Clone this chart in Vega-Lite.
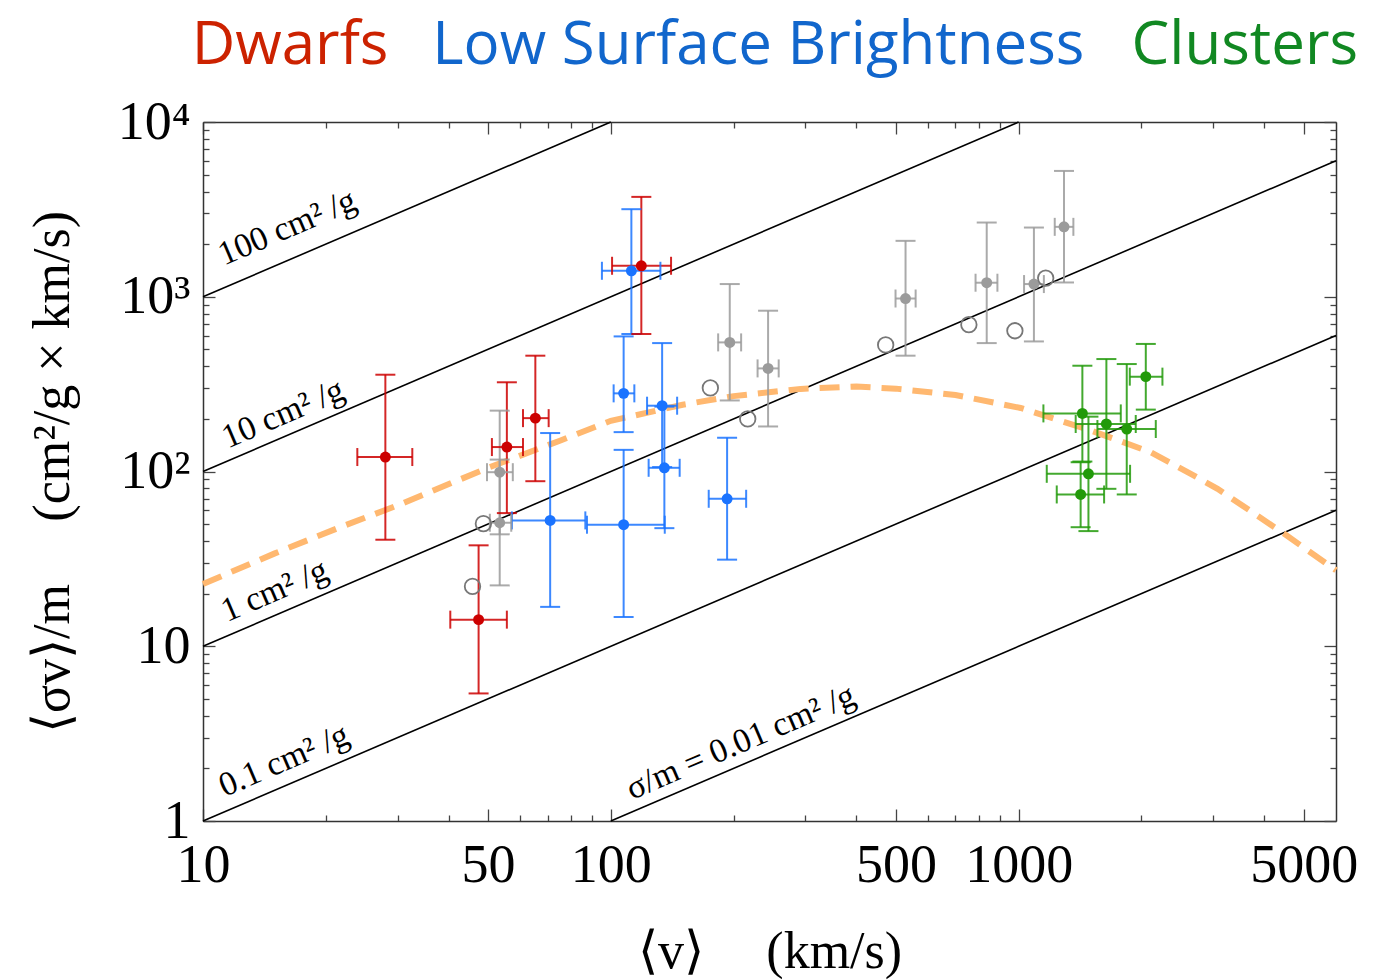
{
  "$schema": "https://vega.github.io/schema/vega-lite/v6.json",
  "width": 1133,
  "height": 699,
  "autosize": {"type": "none"},
  "padding": {"left": 203, "top": 122, "right": 47, "bottom": 159},
  "background": "white",
  "config": {"view": {"stroke": null}},
  "datasets": {
    "lines": [
      {"s": "100", "v": 10, "y": 1000}, {"s": "100", "v": 100, "y": 10000},
      {"s": "10", "v": 10, "y": 100}, {"s": "10", "v": 1000, "y": 10000},
      {"s": "1", "v": 10, "y": 10}, {"s": "1", "v": 6000, "y": 6000},
      {"s": "0.1", "v": 10, "y": 1}, {"s": "0.1", "v": 6000, "y": 600},
      {"s": "0.01", "v": 100, "y": 1}, {"s": "0.01", "v": 6000, "y": 60}
    ],
    "curve": [
      {"v": 10, "y": 22.7}, {"v": 15, "y": 34}, {"v": 21.7, "y": 48}, {"v": 30, "y": 64},
      {"v": 50, "y": 105}, {"v": 75, "y": 150}, {"v": 100, "y": 195}, {"v": 150, "y": 241},
      {"v": 200, "y": 270}, {"v": 292, "y": 297}, {"v": 400, "y": 306}, {"v": 500, "y": 298},
      {"v": 700, "y": 274}, {"v": 1011, "y": 231}, {"v": 1500, "y": 172}, {"v": 2108, "y": 129},
      {"v": 2643, "y": 97}, {"v": 3074, "y": 79.6}, {"v": 4480, "y": 44}, {"v": 6000, "y": 27.2}
    ],
    "points": [
      {"set": "Gray", "v": 53.4, "y": 99.1, "vlo": 49.7, "vhi": 57.5, "ylo": 43.7, "yhi": 223},
      {"set": "Gray", "v": 53.4, "y": 50.9, "vlo": 50.5, "vhi": 57, "ylo": 22.3, "yhi": 117},
      {"set": "Gray", "v": 195.7, "y": 548, "vlo": 183.3, "vhi": 208.7, "ylo": 255, "yhi": 1182},
      {"set": "Gray", "v": 243, "y": 389, "vlo": 229, "vhi": 258, "ylo": 181, "yhi": 832},
      {"set": "Gray", "v": 528, "y": 977, "vlo": 499, "vhi": 559, "ylo": 460, "yhi": 2089},
      {"set": "Gray", "v": 835, "y": 1203, "vlo": 784, "vhi": 887, "ylo": 543, "yhi": 2659},
      {"set": "Gray", "v": 1090, "y": 1182, "vlo": 1031, "vhi": 1153, "ylo": 555, "yhi": 2489},
      {"set": "Gray", "v": 1292, "y": 2512, "vlo": 1226, "vhi": 1362, "ylo": 1207, "yhi": 5248},
      {"set": "LSB", "v": 112.3, "y": 1408, "vlo": 95.1, "vhi": 132.3, "ylo": 612, "yhi": 3170},
      {"set": "LSB", "v": 107.5, "y": 280, "vlo": 101.6, "vhi": 114.2, "ylo": 168, "yhi": 593},
      {"set": "LSB", "v": 133.6, "y": 238, "vlo": 122.7, "vhi": 145.4, "ylo": 106, "yhi": 543},
      {"set": "LSB", "v": 135.3, "y": 105, "vlo": 123.8, "vhi": 147.5, "ylo": 47.4, "yhi": 235},
      {"set": "LSB", "v": 71.0, "y": 52.5, "vlo": 57.2, "vhi": 86.6, "ylo": 16.8, "yhi": 166},
      {"set": "LSB", "v": 107.5, "y": 49.6, "vlo": 87.4, "vhi": 135.6, "ylo": 14.7, "yhi": 133},
      {"set": "LSB", "v": 192.8, "y": 69.8, "vlo": 173.8, "vhi": 214.7, "ylo": 31.3, "yhi": 156},
      {"set": "Dwarfs", "v": 28.0, "y": 121, "vlo": 23.9, "vhi": 32.6, "ylo": 40.7, "yhi": 358},
      {"set": "Dwarfs", "v": 47.4, "y": 14.2, "vlo": 40.4, "vhi": 55.6, "ylo": 5.37, "yhi": 37.8},
      {"set": "Dwarfs", "v": 55.6, "y": 138, "vlo": 51.1, "vhi": 60.9, "ylo": 57.8, "yhi": 324},
      {"set": "Dwarfs", "v": 65.3, "y": 202, "vlo": 60.9, "vhi": 70.4, "ylo": 88.0, "yhi": 460},
      {"set": "Dwarfs", "v": 118.8, "y": 1504, "vlo": 100.7, "vhi": 140.5, "ylo": 612, "yhi": 3728},
      {"set": "Clusters", "v": 1433, "y": 215, "vlo": 1150, "vhi": 1780, "ylo": 114, "yhi": 403},
      {"set": "Clusters", "v": 1641, "y": 187, "vlo": 1380, "vhi": 1937, "ylo": 79.6, "yhi": 440},
      {"set": "Clusters", "v": 1841, "y": 175, "vlo": 1560, "vhi": 2169, "ylo": 73.9, "yhi": 412},
      {"set": "Clusters", "v": 2050, "y": 349, "vlo": 1873, "vhi": 2252, "ylo": 226, "yhi": 537},
      {"set": "Clusters", "v": 1483, "y": 97, "vlo": 1172, "vhi": 1876, "ylo": 45.6, "yhi": 206},
      {"set": "Clusters", "v": 1419, "y": 73.9, "vlo": 1240, "vhi": 1620, "ylo": 48, "yhi": 113}
    ],
    "open": [
      {"v": 45.8, "y": 22.0}, {"v": 48.7, "y": 50.3}, {"v": 175.4, "y": 300.8}, {"v": 216.6, "y": 200},
      {"v": 472, "y": 530}, {"v": 755, "y": 692}, {"v": 979, "y": 639}, {"v": 1165, "y": 1279}
    ],
    "labels": [
      {"text": "100 cm² /g", "v": 11.26, "y": 1504},
      {"text": "10 cm² /g", "v": 11.5, "y": 135},
      {"text": "1 cm² /g", "v": 11.45, "y": 13.7},
      {"text": "0.1 cm² /g", "v": 11.3, "y": 1.37},
      {"text": "σ/m = 0.01 cm² /g", "v": 112.7, "y": 1.32}
    ],
    "title": [
      {"text": "Dwarfs", "group": "tDwarfs", "v": 16.35, "y": 21450},
      {"text": "Low Surface Brightness", "group": "tLSB", "v": 230, "y": 21450},
      {"text": "Clusters", "group": "tClusters", "v": 3585, "y": 21450}
    ]
  },
  "resolve": {"axis": {"x": "independent", "y": "independent"}},
  "layer": [
    {
      "data": {"name": "lines"},
      "mark": {"type": "line", "color": "black", "strokeWidth": 1.6},
      "encoding": {
        "x": {"field": "v", "type": "quantitative",
          "scale": {"type": "log", "domain": [10, 6000], "nice": false},
          "axis": {"orient": "bottom",
            "values": [10,20,30,40,50,60,70,80,90,100,200,300,400,500,600,700,800,900,1000,2000,3000,4000,5000],
            "labelExpr": "indexof([10,50,100,500,1000,5000], datum.value) >= 0 ? format(datum.value, 'd') : ''",
            "labelOverlap": false, "labelFlush": false,
            "tickSize": {"condition": {"test": "indexof([10,50,100,500,1000,5000], datum.value) >= 0", "value": -12}, "value": -6},
            "tickColor": "#444", "tickWidth": 1.3,
            "domainColor": "#333", "domainWidth": 1.5, "grid": false,
            "labelFont": "Liberation Serif", "labelFontSize": 54, "labelColor": "black", "labelPadding": 29,
            "title": "⟨v⟩\u2003\u2009(km/s)", "titleFont": "Liberation Serif", "titleFontSize": 52,
            "titleFontWeight": "normal", "titleColor": "black", "titlePadding": 28}},
        "y": {"field": "y", "type": "quantitative",
          "scale": {"type": "log", "domain": [1, 10000], "nice": false},
          "axis": {"orient": "left",
            "values": [1,2,3,4,5,6,7,8,9,10,20,30,40,50,60,70,80,90,100,200,300,400,500,600,700,800,900,1000,2000,3000,4000,5000,6000,7000,8000,9000,10000],
            "labelExpr": "datum.value == 10000 ? '10⁴' : datum.value == 1000 ? '10³' : datum.value == 100 ? '10²' : (datum.value == 10 || datum.value == 1) ? format(datum.value, 'd') : ''",
            "labelOverlap": false, "labelFlush": false,
            "tickSize": {"condition": {"test": "indexof([1,10,100,1000,10000], datum.value) >= 0", "value": -12}, "value": -6},
            "tickColor": "#444", "tickWidth": 1.3,
            "domainColor": "#333", "domainWidth": 1.5, "grid": false,
            "labelFont": "Liberation Serif", "labelFontSize": 54, "labelColor": "black", "labelPadding": 25,
            "title": "⟨σv⟩/m\u2003\u2009(cm²/g × km/s)", "titleFont": "Liberation Serif", "titleFontSize": 52,
            "titleFontWeight": "normal", "titleColor": "black", "titlePadding": 38}},
        "detail": {"field": "s", "type": "nominal"}
      }
    },
    {
      "data": {"name": "curve"},
      "mark": {"type": "line", "color": "#ffb870", "strokeWidth": 6, "strokeDash": [20, 11]},
      "encoding": {
        "x": {"field": "v", "type": "quantitative",
          "scale": {"type": "log", "domain": [10, 6000], "nice": false},
          "axis": {"orient": "top",
            "values": [10,20,30,40,50,60,70,80,90,100,200,300,400,500,600,700,800,900,1000,2000,3000,4000,5000],
            "labels": false, "title": null, "grid": false,
            "tickSize": {"condition": {"test": "indexof([10,50,100,500,1000,5000], datum.value) >= 0", "value": -12}, "value": -6},
            "tickColor": "#444", "tickWidth": 1.3, "domainColor": "#333", "domainWidth": 1.5}},
        "y": {"field": "y", "type": "quantitative",
          "scale": {"type": "log", "domain": [1, 10000], "nice": false},
          "axis": {"orient": "right",
            "values": [1,2,3,4,5,6,7,8,9,10,20,30,40,50,60,70,80,90,100,200,300,400,500,600,700,800,900,1000,2000,3000,4000,5000,6000,7000,8000,9000,10000],
            "labels": false, "title": null, "grid": false,
            "tickSize": {"condition": {"test": "indexof([1,10,100,1000,10000], datum.value) >= 0", "value": -12}, "value": -6},
            "tickColor": "#444", "tickWidth": 1.3, "domainColor": "#333", "domainWidth": 1.5}}
      }
    },
    {
      "data": {"name": "points"},
      "mark": {"type": "rule", "strokeWidth": 2, "opacity": 0.85},
      "encoding": {
        "x": {"field": "v", "type": "quantitative", "axis": null},
        "y": {"field": "ylo", "type": "quantitative", "axis": null},
        "y2": {"field": "yhi"},
        "color": {"field": "set", "type": "nominal", "legend": null,
          "scale": {"domain": ["Gray","LSB","Dwarfs","Clusters","tDwarfs","tLSB","tClusters"],
                    "range": ["#9b9b9b","#1a73ff","#cc0000","#229a0a","#cc2200","#1166cc","#118822"]}}
      }
    },
    {
      "data": {"name": "points"},
      "mark": {"type": "rule", "strokeWidth": 2, "opacity": 0.85},
      "encoding": {
        "x": {"field": "vlo", "type": "quantitative", "axis": null},
        "x2": {"field": "vhi"},
        "y": {"field": "y", "type": "quantitative", "axis": null},
        "color": {"field": "set", "type": "nominal", "legend": null}
      }
    },
    {
      "data": {"name": "points"},
      "mark": {"type": "tick", "orient": "horizontal", "size": 20, "thickness": 2, "opacity": 0.85},
      "encoding": {
        "x": {"field": "v", "type": "quantitative", "axis": null},
        "y": {"field": "ylo", "type": "quantitative", "axis": null},
        "color": {"field": "set", "type": "nominal", "legend": null}
      }
    },
    {
      "data": {"name": "points"},
      "mark": {"type": "tick", "orient": "horizontal", "size": 20, "thickness": 2, "opacity": 0.85},
      "encoding": {
        "x": {"field": "v", "type": "quantitative", "axis": null},
        "y": {"field": "yhi", "type": "quantitative", "axis": null},
        "color": {"field": "set", "type": "nominal", "legend": null}
      }
    },
    {
      "data": {"name": "points"},
      "mark": {"type": "tick", "orient": "vertical", "size": 18, "thickness": 2, "opacity": 0.85},
      "encoding": {
        "x": {"field": "vlo", "type": "quantitative", "axis": null},
        "y": {"field": "y", "type": "quantitative", "axis": null},
        "color": {"field": "set", "type": "nominal", "legend": null}
      }
    },
    {
      "data": {"name": "points"},
      "mark": {"type": "tick", "orient": "vertical", "size": 18, "thickness": 2, "opacity": 0.85},
      "encoding": {
        "x": {"field": "vhi", "type": "quantitative", "axis": null},
        "y": {"field": "y", "type": "quantitative", "axis": null},
        "color": {"field": "set", "type": "nominal", "legend": null}
      }
    },
    {
      "data": {"name": "points"},
      "mark": {"type": "point", "shape": "circle", "filled": true, "size": 120, "opacity": 1},
      "encoding": {
        "x": {"field": "v", "type": "quantitative", "axis": null},
        "y": {"field": "y", "type": "quantitative", "axis": null},
        "color": {"field": "set", "type": "nominal", "legend": null}
      }
    },
    {
      "data": {"name": "open"},
      "mark": {"type": "point", "shape": "circle", "filled": false, "size": 240, "stroke": "#777777", "strokeWidth": 1.8, "opacity": 1},
      "encoding": {
        "x": {"field": "v", "type": "quantitative", "axis": null},
        "y": {"field": "y", "type": "quantitative", "axis": null}
      }
    },
    {
      "data": {"name": "labels"},
      "mark": {"type": "text", "font": "Liberation Serif", "fontSize": 34, "angle": 336.8, "align": "left", "baseline": "alphabetic", "color": "black"},
      "encoding": {
        "x": {"field": "v", "type": "quantitative", "axis": null},
        "y": {"field": "y", "type": "quantitative", "axis": null},
        "text": {"field": "text", "type": "nominal"}
      }
    },
    {
      "data": {"name": "title"},
      "mark": {"type": "text", "font": "Open Sans", "fontSize": 60, "align": "center", "baseline": "alphabetic"},
      "encoding": {
        "x": {"field": "v", "type": "quantitative", "axis": null},
        "y": {"field": "y", "type": "quantitative", "axis": null},
        "text": {"field": "text", "type": "nominal"},
        "color": {"field": "group", "type": "nominal", "legend": null}
      }
    }
  ]
}
